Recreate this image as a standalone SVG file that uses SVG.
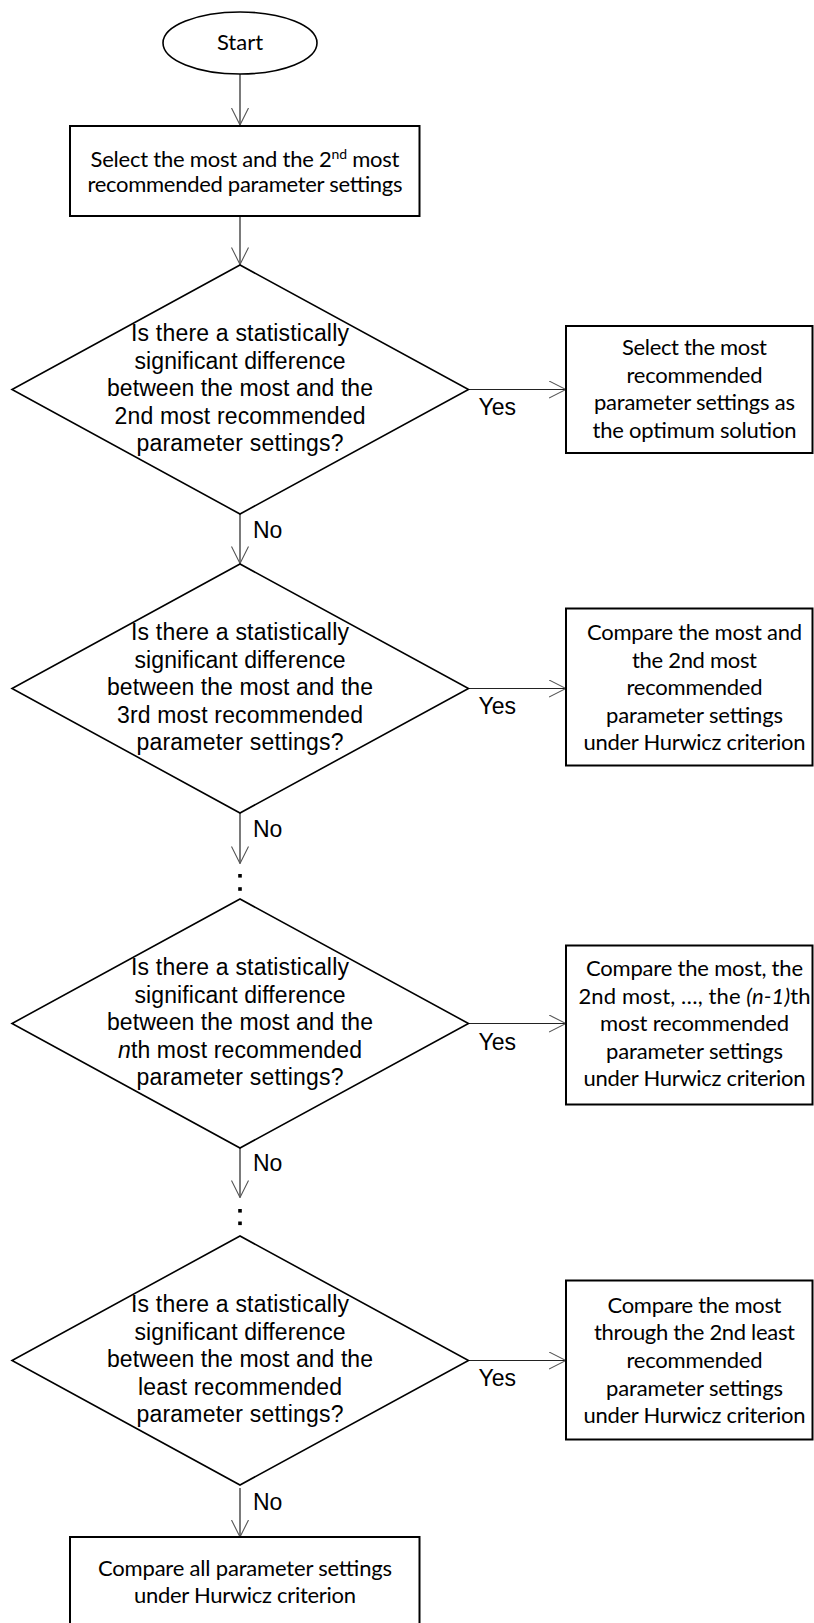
<svg xmlns="http://www.w3.org/2000/svg" width="814" height="1623" viewBox="0 0 814 1623">
<style>
.box{fill:#fff;stroke:#000;stroke-width:2}
.dia{fill:#fff;stroke:#000;stroke-width:1.6}
.cal{font-family:Lato,"Open Sans","Liberation Sans",sans-serif;font-size:22px;fill:#000;text-anchor:middle}
.ari{font-family:"Liberation Sans",Arial,sans-serif;font-size:23px;fill:#000;text-anchor:middle}
.lbl{font-family:"Liberation Sans",Arial,sans-serif;font-size:23px;fill:#000}
.con{fill:none;stroke:#222;stroke-width:1.2}
.dot{fill:#000}
</style>
<defs>
<marker id="arr" viewBox="0 0 18 18" refX="17.5" refY="9" markerWidth="18" markerHeight="18" markerUnits="userSpaceOnUse" orient="auto">
<path d="M0.5,0.5 L17.5,9 L0.5,17.5" fill="none" stroke="#555" stroke-width="1.1"/>
</marker>
</defs>
<rect width="814" height="1623" fill="#fff"/>

<g id="connectors">
<line class="con" x1="240" y1="74" x2="240" y2="125" marker-end="url(#arr)"/>
<line class="con" x1="240" y1="216" x2="240" y2="264.5" marker-end="url(#arr)"/>
<line class="con" x1="469" y1="389.5" x2="566" y2="389.5" marker-end="url(#arr)"/>
<line class="con" x1="240" y1="514" x2="240" y2="563.5" marker-end="url(#arr)"/>
<line class="con" x1="469" y1="688.5" x2="566" y2="688.5" marker-end="url(#arr)"/>
<line class="con" x1="240" y1="813" x2="240" y2="863.5" marker-end="url(#arr)"/>
<rect class="dot" x="238.2" y="874" width="3.6" height="3.6"/>
<rect class="dot" x="238.2" y="887.2" width="3.6" height="3.6"/>
<rect class="dot" x="238.2" y="899.5" width="3.6" height="3.6"/>
<line class="con" x1="469" y1="1023.5" x2="566" y2="1023.5" marker-end="url(#arr)"/>
<line class="con" x1="240" y1="1148" x2="240" y2="1197.5" marker-end="url(#arr)"/>
<rect class="dot" x="238.2" y="1209" width="3.6" height="3.6"/>
<rect class="dot" x="238.2" y="1221.5" width="3.6" height="3.6"/>
<rect class="dot" x="238.2" y="1236" width="3.6" height="3.6"/>
<line class="con" x1="469" y1="1360.5" x2="566" y2="1360.5" marker-end="url(#arr)"/>
<line class="con" x1="240" y1="1488" x2="240" y2="1537" marker-end="url(#arr)"/>
<text class="lbl" x="478.5" y="415">Yes</text>
<text class="lbl" x="253" y="538">No</text>
<text class="lbl" x="478.5" y="714">Yes</text>
<text class="lbl" x="253" y="837">No</text>
<text class="lbl" x="478.5" y="1049.5">Yes</text>
<text class="lbl" x="253" y="1171">No</text>
<text class="lbl" x="478.5" y="1386">Yes</text>
<text class="lbl" x="253" y="1509.5">No</text>
</g>

<g id="start">
<ellipse cx="240" cy="43" rx="77" ry="31" fill="#fff" stroke="#000" stroke-width="1.6"/>
<text class="cal" x="240" y="50" font-size="20">Start</text>
</g>

<g id="select">
<rect class="box" x="70" y="126" width="349.5" height="90"/>
<text class="cal" x="245" y="167" textLength="309">Select the most and the 2<tspan dy="-8" font-size="14">nd</tspan><tspan dy="8"> most</tspan></text>
<text class="cal" x="245" y="192" textLength="315">recommended parameter settings</text>
</g>

<g id="decision1">
<polygon class="dia" points="240,265 12,389.5 240,514 468.5,389.5"/>
<text class="ari" x="240" y="341" textLength="218">Is there a statistically</text>
<text class="ari" x="240" y="368.6" textLength="211">significant difference</text>
<text class="ari" x="240" y="396.2" textLength="266">between the most and the</text>
<text class="ari" x="240" y="423.8" textLength="251">2nd most recommended</text>
<text class="ari" x="240" y="451.4" textLength="207">parameter settings?</text>
</g>

<g id="result1">
<rect class="box" x="566" y="326" width="246.5" height="127"/>
<text class="cal" x="694.5" y="355" textLength="145">Select the most</text>
<text class="cal" x="694.5" y="382.6" textLength="136">recommended</text>
<text class="cal" x="694.5" y="410.2" textLength="201">parameter settings as</text>
<text class="cal" x="694.5" y="437.8" textLength="204">the optimum solution</text>
</g>

<g id="decision2">
<polygon class="dia" points="240,564 12,688.5 240,813 468.5,688.5"/>
<text class="ari" x="240" y="640" textLength="218">Is there a statistically</text>
<text class="ari" x="240" y="667.6" textLength="211">significant difference</text>
<text class="ari" x="240" y="695.2" textLength="266">between the most and the</text>
<text class="ari" x="240" y="722.8" textLength="246">3rd most recommended</text>
<text class="ari" x="240" y="750.4" textLength="207">parameter settings?</text>
</g>

<g id="result2">
<rect class="box" x="566" y="608.5" width="246.5" height="157"/>
<text class="cal" x="694.5" y="640" textLength="215">Compare the most and</text>
<text class="cal" x="694.5" y="667.6" textLength="125">the 2nd most</text>
<text class="cal" x="694.5" y="695.2" textLength="136">recommended</text>
<text class="cal" x="694.5" y="722.8" textLength="177">parameter settings</text>
<text class="cal" x="694.5" y="750.4" textLength="222">under Hurwicz criterion</text>
</g>

<g id="decision3">
<polygon class="dia" points="240,899 12,1023.5 240,1148 468.5,1023.5"/>
<text class="ari" x="240" y="975" textLength="218">Is there a statistically</text>
<text class="ari" x="240" y="1002.6" textLength="211">significant difference</text>
<text class="ari" x="240" y="1030.2" textLength="266">between the most and the</text>
<text class="ari" x="240" y="1057.8" textLength="244"><tspan font-style="italic">n</tspan>th most recommended</text>
<text class="ari" x="240" y="1085.4" textLength="207">parameter settings?</text>
</g>

<g id="result3">
<rect class="box" x="566" y="945.5" width="246.5" height="159"/>
<text class="cal" x="694.5" y="976" textLength="217">Compare the most, the</text>
<text class="cal" x="694.5" y="1003.6" textLength="232">2nd most, …, the <tspan font-style="italic">(n-1)</tspan>th</text>
<text class="cal" x="694.5" y="1031.2" textLength="189">most recommended</text>
<text class="cal" x="694.5" y="1058.8" textLength="177">parameter settings</text>
<text class="cal" x="694.5" y="1086.4" textLength="222">under Hurwicz criterion</text>
</g>

<g id="decision4">
<polygon class="dia" points="240,1236 12,1360.5 240,1485 468.5,1360.5"/>
<text class="ari" x="240" y="1312" textLength="218">Is there a statistically</text>
<text class="ari" x="240" y="1339.6" textLength="211">significant difference</text>
<text class="ari" x="240" y="1367.2" textLength="266">between the most and the</text>
<text class="ari" x="240" y="1394.8" textLength="204">least recommended</text>
<text class="ari" x="240" y="1422.4" textLength="207">parameter settings?</text>
</g>

<g id="result4">
<rect class="box" x="566" y="1280.5" width="246.5" height="159"/>
<text class="cal" x="694.5" y="1312.7" textLength="174">Compare the most</text>
<text class="cal" x="694.5" y="1340.3" textLength="201">through the 2nd least</text>
<text class="cal" x="694.5" y="1367.9" textLength="136">recommended</text>
<text class="cal" x="694.5" y="1395.5" textLength="177">parameter settings</text>
<text class="cal" x="694.5" y="1423.1" textLength="222">under Hurwicz criterion</text>
</g>

<g id="final">
<rect class="box" x="70" y="1537" width="349.5" height="100"/>
<text class="cal" x="245" y="1576" textLength="294">Compare all parameter settings</text>
<text class="cal" x="245" y="1603" textLength="222">under Hurwicz criterion</text>
</g>
</svg>
